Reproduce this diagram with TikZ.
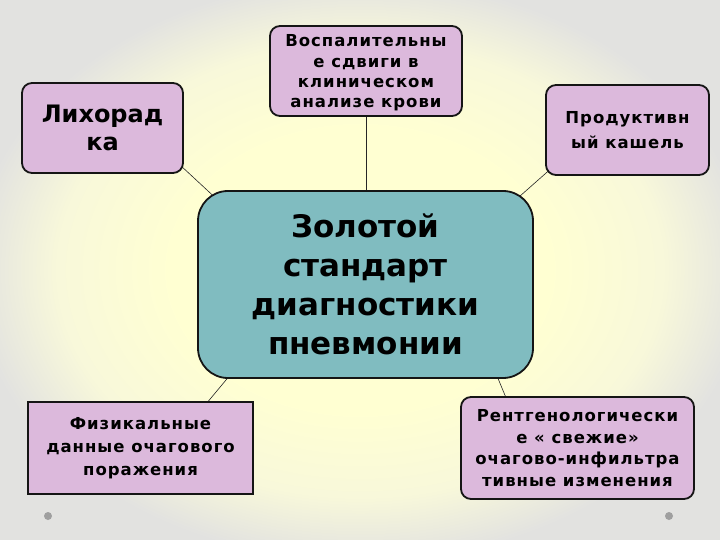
\documentclass[tikz,border=0pt]{standalone}
\usepackage{fontspec}
\setmainfont{DejaVu Sans}
\newfontfamily\boxfont[LetterSpace=6]{DejaVu Sans Bold}
\newfontfamily\bigfont{DejaVu Sans Bold}
\usetikzlibrary{calc}
\pgfdeclarelayer{bglayer}
\pgfdeclarelayer{linelayer}
\pgfsetlayers{bglayer,linelayer,main}
\definecolor{boxpurple}{HTML}{DCB9DC}
\definecolor{boxteal}{HTML}{80BCC0}
\definecolor{bgyel}{HTML}{FFFFD2}
\definecolor{bgmid}{HTML}{F8F8DA}
\definecolor{bggray}{HTML}{E2E2E0}
\definecolor{edge}{HTML}{151515}
\pgfdeclareradialshading{bgshade}{\pgfpoint{0bp}{0bp}}{%
  color(0bp)=(bgyel); color(13bp)=(bgyel); color(21bp)=(bgmid); color(27bp)=(bggray); color(36bp)=(bggray); color(50bp)=(bggray)}
\tikzset{
  smallbox/.style={draw=edge, line width=1.8pt, fill=boxpurple, rounded corners=10pt, align=center, inner sep=0pt},
  sqbox/.style={draw=edge, line width=1.8pt, fill=boxpurple, align=center, inner sep=0pt},
  centerbox/.style={draw=edge, line width=1.8pt, fill=boxteal, rounded corners=30pt, align=center, inner sep=0pt},
  conn/.style={draw=black!85, line width=0.6pt},
  dot/.style={fill=gray!75, draw=none},
  smalltext/.style={font=\boxfont\fontsize{16.5}{#1}\selectfont}
}
\begin{document}
\begin{tikzpicture}[x=1pt,y=-1pt]
\useasboundingbox (0,0) rectangle (720,540);
\begin{pgfonlayer}{bglayer}
\shade[shading=bgshade] (0,0) rectangle (720,540);
\end{pgfonlayer}
\node[smallbox, minimum width=161pt, minimum height=90pt,
      font=\bigfont\fontsize{24}{28}\selectfont] (lih) at (102.5,128) {Лихорад\\ка};
\node[smallbox, smalltext=20.3, minimum width=192pt, minimum height=90pt] (vos) at (366,71)
  {\raisebox{-2pt}[\height][\depth]{\parbox{180pt}{\centering Воспалительны\\е сдвиги в\\клиническом\\анализе крови}}};
\node[smallbox, smalltext=25, minimum width=163pt, minimum height=90pt] (prod) at (627.5,130) {Продуктивн\\ый кашель};
\node[centerbox, minimum width=335pt, minimum height=187pt,
      font=\bigfont\fontsize{31}{39}\selectfont] (c) at (365.5,284.5) {Золотой\\стандарт\\диагностики\\пневмонии};
\node[sqbox, smalltext=23, minimum width=225pt, minimum height=92pt] (fiz) at (140.5,448) {Физикальные\\данные очагового\\поражения};
\node[smallbox, smalltext=21.5, minimum width=233pt, minimum height=102pt] (rent) at (577.5,448) {Рентгенологически\\е « свежие»\\очагово-инфильтра\\тивные изменения};
\begin{pgfonlayer}{linelayer}
\draw[conn] ([shift={(-4,-9)}]lih.south east) -- ([shift={(24,13)}]c.north west);
\draw[conn] (vos.south) -- (vos.south |- c.north);
\draw[conn] ([shift={(9,-10)}]prod.south west) -- ([shift={(-23,14)}]c.north east);
\draw[conn] ([shift={(-48,3)}]fiz.north east) -- ([shift={(36.5,-8)}]c.south west);
\draw[conn] ([shift={(47.7,6)}]rent.north west) -- ([shift={(-39,-8)}]c.south east);
\end{pgfonlayer}
\fill[dot] (48,516) circle (4);
\fill[dot] (669,516) circle (4);
\end{tikzpicture}
\end{document}
